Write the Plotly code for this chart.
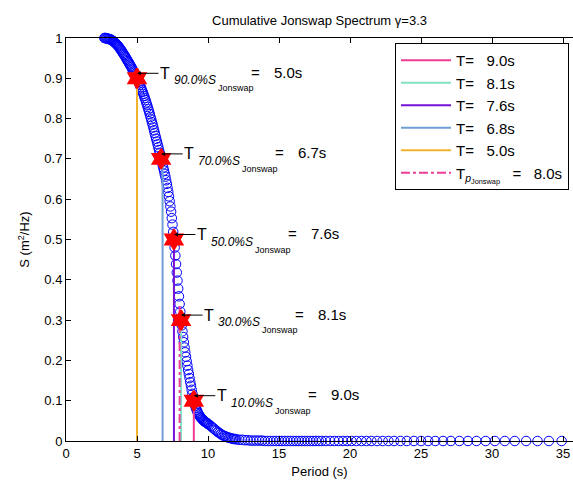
import plotly.graph_objects as go

# Cumulative JONSWAP spectrum (gamma = 3.3) versus wave period
period_s = [
    2.70, 2.75, 2.80, 2.85, 2.90, 2.95, 3.00, 3.05, 3.10, 3.15,
    3.20, 3.25, 3.30, 3.35, 3.40, 3.45, 3.50, 3.55, 3.60, 3.65,
    3.70, 3.75, 3.80, 3.85, 3.90, 3.95, 4.00, 4.05, 4.10, 4.15,
    4.20, 4.25, 4.30, 4.35, 4.40, 4.45, 4.50, 4.55, 4.60, 4.65,
    4.70, 4.75, 4.80, 4.85, 4.90, 4.95, 5.00, 5.05, 5.10, 5.15,
    5.20, 5.25, 5.30, 5.35, 5.40, 5.45, 5.50, 5.55, 5.60, 5.65,
    5.70, 5.75, 5.80, 5.85, 5.90, 5.95, 6.00, 6.05, 6.10, 6.15,
    6.20, 6.25, 6.30, 6.35, 6.40, 6.45, 6.50, 6.55, 6.60, 6.65,
    6.70, 6.75, 6.80, 6.85, 6.90, 6.95, 7.00, 7.05, 7.10, 7.15,
    7.20, 7.25, 7.30, 7.35, 7.40, 7.45, 7.50, 7.55, 7.60, 7.65,
    7.70, 7.75, 7.80, 7.85, 7.90, 7.95, 8.00, 8.05, 8.10, 8.15,
    8.20, 8.25, 8.30, 8.35, 8.40, 8.45, 8.50, 8.55, 8.60, 8.65,
    8.70, 8.75, 8.80, 8.85, 8.90, 8.95, 9.00, 9.05, 9.10, 9.15,
    9.20, 9.25, 9.30, 9.35, 9.40, 9.45, 9.50, 9.55, 9.60, 9.65,
    9.70, 9.75, 9.80, 9.85, 9.90, 9.95, 10.00,
    10.1, 10.2, 10.3, 10.4, 10.5, 10.6, 10.7, 10.8, 10.9, 11.0,
    11.1, 11.2, 11.3, 11.4, 11.5, 11.6, 11.7, 11.8, 11.9, 12.0,
    12.2, 12.4, 12.6, 12.8, 13.0, 13.2, 13.4, 13.6, 13.8, 14.0,
    14.2, 14.4, 14.6, 14.8, 15.0, 15.2, 15.4, 15.6, 15.8, 16.0,
    16.2, 16.4, 16.6, 16.8, 17.0, 17.2, 17.4, 17.6, 17.8,
    18.0, 18.3, 18.6, 18.9, 19.2, 19.5, 19.8, 20.1, 20.45, 20.8,
    21.15, 21.5, 21.9, 22.3, 22.7, 23.1, 23.55, 24.0, 24.5, 25.0,
    25.5, 26.0, 26.55, 27.1, 27.7, 28.3, 28.9, 29.55, 30.2, 30.9,
    31.6, 32.4, 33.2, 34.0, 34.9,
]
cum_s = [
    1.000, 1.000, 1.000, 0.999, 0.999, 0.998, 0.998, 0.997, 0.997, 0.996,
    0.995, 0.994, 0.993, 0.991, 0.990, 0.988, 0.987, 0.985, 0.983, 0.981,
    0.979, 0.976, 0.974, 0.971, 0.969, 0.966, 0.963, 0.960, 0.958, 0.955,
    0.952, 0.949, 0.946, 0.943, 0.940, 0.937, 0.934, 0.931, 0.928, 0.924,
    0.921, 0.917, 0.914, 0.910, 0.907, 0.903, 0.900, 0.896, 0.892, 0.888,
    0.884, 0.879, 0.875, 0.870, 0.866, 0.861, 0.856, 0.851, 0.846, 0.840,
    0.835, 0.829, 0.823, 0.817, 0.811, 0.804, 0.798, 0.791, 0.785, 0.778,
    0.771, 0.764, 0.757, 0.750, 0.743, 0.736, 0.729, 0.722, 0.715, 0.707,
    0.700, 0.693, 0.686, 0.678, 0.671, 0.663, 0.656, 0.647, 0.638, 0.628,
    0.618, 0.607, 0.595, 0.582, 0.569, 0.553, 0.537, 0.519, 0.500, 0.480,
    0.460, 0.439, 0.418, 0.398, 0.378, 0.359, 0.340, 0.321, 0.303, 0.287,
    0.272, 0.258, 0.245, 0.232, 0.220, 0.209, 0.198, 0.187, 0.176, 0.166,
    0.156, 0.146, 0.137, 0.127, 0.117, 0.108, 0.100, 0.093, 0.087, 0.082,
    0.077, 0.073, 0.069, 0.066, 0.063, 0.060, 0.058, 0.056, 0.054, 0.052,
    0.050, 0.049, 0.047, 0.046, 0.045, 0.044, 0.042,
    0.040, 0.037, 0.034, 0.031, 0.028, 0.025, 0.022, 0.020, 0.017, 0.015,
    0.013, 0.012, 0.010, 0.009, 0.008, 0.007, 0.006, 0.005, 0.005, 0.004,
    0.003, 0.003, 0.002, 0.002, 0.001, 0.001, 0.001, 0.001, 0.001, 0.000,
    0.000, 0.000, 0.000, 0.000, 0.000, 0.000, 0.000, 0.000, 0.000, 0.000,
    0.000, 0.000, 0.000, 0.000, 0.000, 0.000, 0.000, 0.000, 0.000,
    0.000, 0.000, 0.000, 0.000, 0.000, 0.000, 0.000, 0.000, 0.000, 0.000,
    0.000, 0.000, 0.000, 0.000, 0.000, 0.000, 0.000, 0.000, 0.000, 0.000,
    0.000, 0.000, 0.000, 0.000, 0.000, 0.000, 0.000, 0.000, 0.000, 0.000,
    0.000, 0.000, 0.000, 0.000, 0.000,
]

# Periods at which given fractions of the total energy are reached
level_pct = [90.0, 70.0, 50.0, 30.0, 10.0]
level_period = [5.0, 6.7, 7.6, 8.1, 9.0]

# Vertical reference lines (legend entries)
line_period = [9.0, 8.1, 7.6, 6.8, 5.0]
line_height = [0.1, 0.3, 0.5, 0.7, 0.9]
peak_period = 8.0
peak_height = 0.34

x_ticks = [0, 5, 10, 15, 20, 25, 30, 35]
y_ticks = [0, 0.1, 0.2, 0.3, 0.4, 0.5, 0.6, 0.7, 0.8, 0.9, 1.0]
y_tick_text = ["0", "0.1", "0.2", "0.3", "0.4", "0.5", "0.6", "0.7", "0.8", "0.9", "1"]

FONT = "Liberation Sans, Arial, sans-serif"
line_colors = ["#ef3d97", "#7fe2c3", "#7610d6", "#6e9fd6", "#f0b22c"]
peak_color = "#ef3d97"
NB = "\u00a0"

fig = go.Figure()

fig.add_trace(go.Scatter(
    x=period_s, y=cum_s, mode="markers",
    marker=dict(symbol="circle-open", size=9.5, color="#0000ff", line=dict(width=1)),
    showlegend=False, cliponaxis=False, hoverinfo="skip",
))

for p, h, c in zip(line_period, line_height, line_colors):
    fig.add_trace(go.Scatter(
        x=[p, p], y=[0, h], mode="lines",
        line=dict(color=c, width=2),
        name=f"T={NB * 3}{p:.1f}s",
    ))

fig.add_trace(go.Scatter(
    x=[peak_period, peak_period], y=[0, peak_height], mode="lines",
    line=dict(color=peak_color, width=2, dash="dashdot"),
    name=f"T<sub><i>p</i><sub>Jonswap</sub></sub>{NB * 3}={NB * 3}{peak_period:.1f}s",
))

fig.add_trace(go.Scatter(
    x=level_period, y=[v / 100 for v in level_pct], mode="markers",
    marker=dict(symbol="hexagram", size=15, color="#ff0000",
                line=dict(color="#ff0000", width=2)),
    showlegend=False, cliponaxis=False, hoverinfo="skip",
))

annotations = []
for pct, p in zip(level_pct, level_period):
    s = pct / 100
    # "T" label with its arrow pointing back to the marker
    annotations.append(dict(
        x=p, y=s, ax=28, ay=0, text="T", showarrow=True,
        arrowhead=2, arrowsize=0.8, arrowwidth=1, arrowcolor="black",
        standoff=0, yshift=5,
        font=dict(family=FONT, size=16, color="black"),
    ))
    common = dict(x=p, y=s, xanchor="left", yanchor="middle", showarrow=False)
    annotations.append(dict(common, text=f"<i>{pct:.1f}%S</i>", xshift=35, yshift=-2,
                            font=dict(family=FONT, size=12, color="black")))
    annotations.append(dict(common, text="Jonswap", xshift=79, yshift=-10,
                            font=dict(family=FONT, size=9, color="black")))
    annotations.append(dict(common, text="=", xshift=112, yshift=6,
                            font=dict(family=FONT, size=15, color="black")))
    annotations.append(dict(common, text=f"{p:.1f}s", xshift=135, yshift=6,
                            font=dict(family=FONT, size=15, color="black")))

fig.update_layout(
    width=573, height=485,
    margin=dict(l=66, r=0, t=38, b=44),
    paper_bgcolor="white", plot_bgcolor="white",
    font=dict(family=FONT, size=13, color="black"),
    title=dict(text="Cumulative Jonswap Spectrum γ=3.3", x=0.5, xref="paper",
               y=1 - 20 / 485, yref="container", yanchor="middle",
               font=dict(family=FONT, size=13, color="black")),
    xaxis=dict(range=[0, 35.7], tickvals=x_ticks, ticks="inside", ticklen=5,
               tickcolor="black", showline=True, linecolor="black", linewidth=1,
               mirror="ticks", showgrid=False, zeroline=False,
               tickfont=dict(size=13),
               title=dict(text="Period (s)", standoff=7, font=dict(size=13))),
    yaxis=dict(range=[0, 1], tickvals=y_ticks, ticktext=y_tick_text,
               ticks="inside", ticklen=5, tickcolor="black", showline=True,
               linecolor="black", linewidth=1, showgrid=False, zeroline=False,
               tickfont=dict(size=13),
               title=dict(text="S (m<sup>2</sup>/Hz)", standoff=11, font=dict(size=13))),
    legend=dict(x=(395 - 66) / 507, y=(441 - 43) / 403, xanchor="left", yanchor="top",
                bordercolor="black", borderwidth=1, bgcolor="white",
                font=dict(family=FONT, size=15, color="black"),
                itemwidth=50, tracegroupgap=0),
    annotations=annotations,
    showlegend=True,
)

fig.write_html("out.html")
